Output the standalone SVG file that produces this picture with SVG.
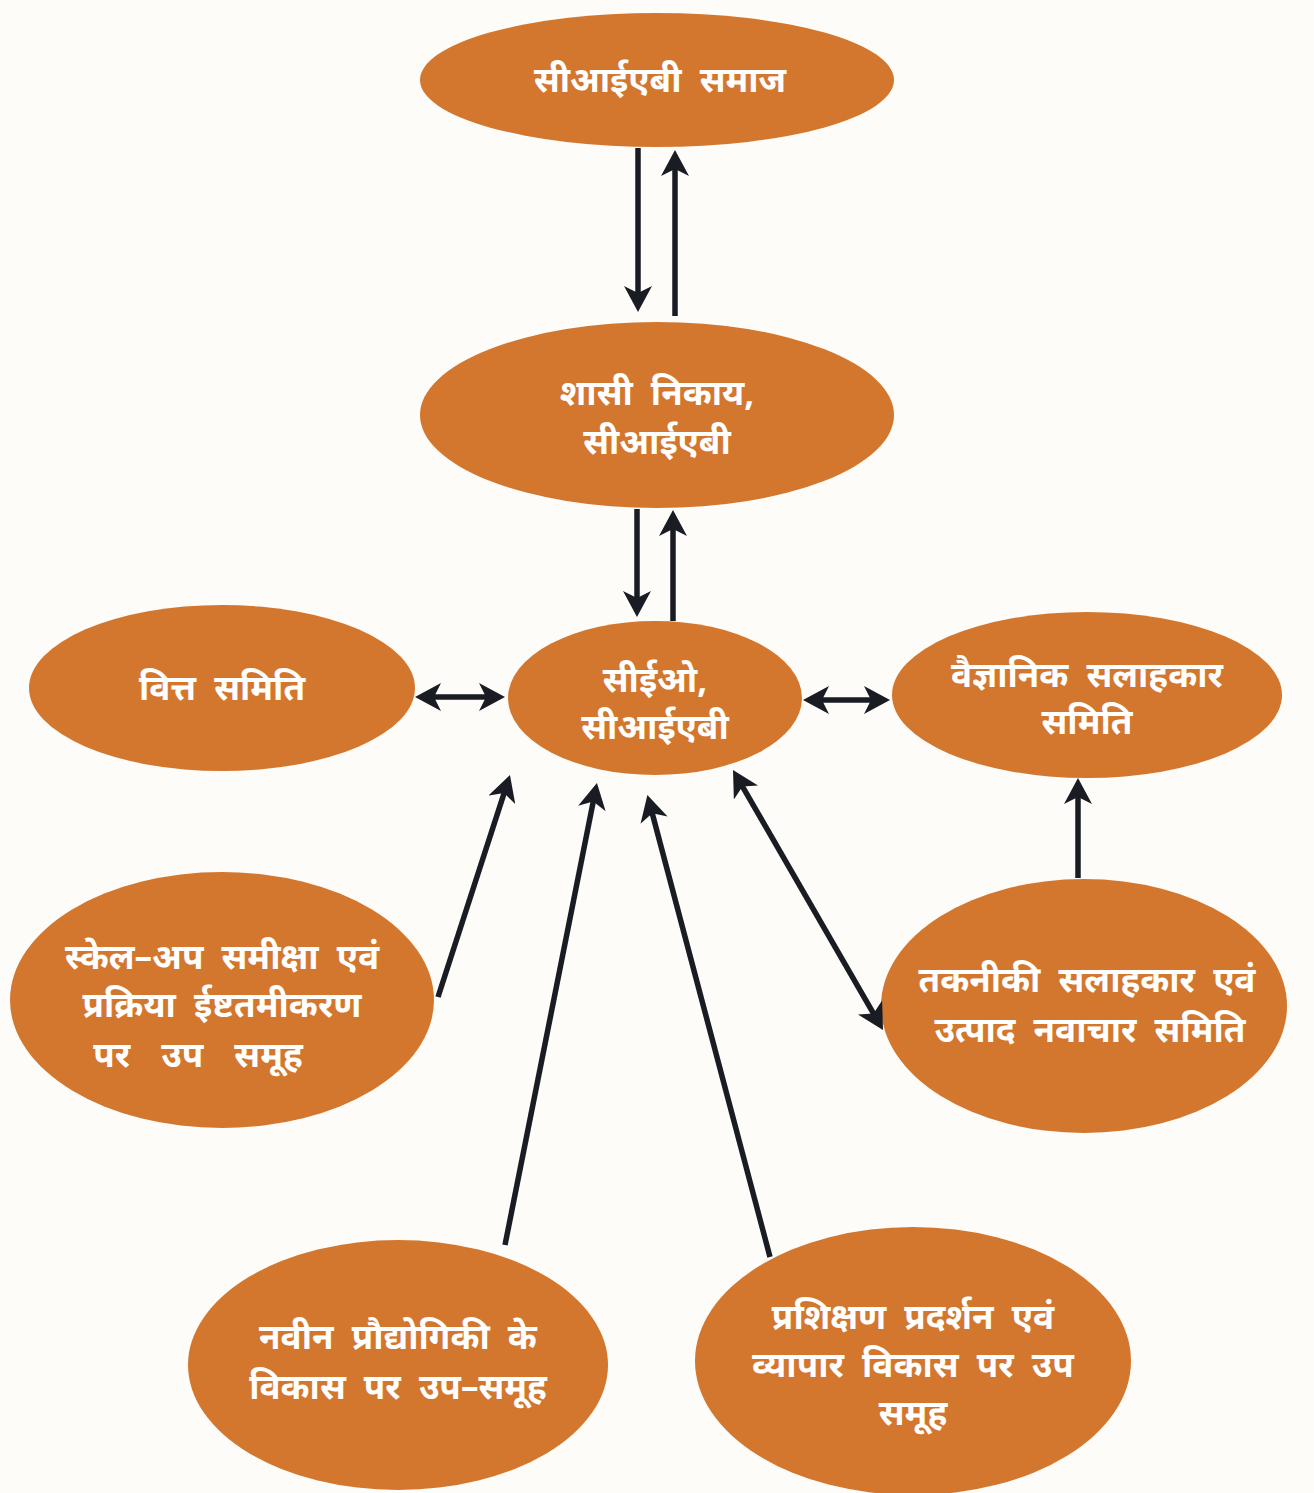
<svg xmlns="http://www.w3.org/2000/svg" width="1314" height="1493" viewBox="0 0 1314 1493">
  <style>
    .node { fill: #D3772F; }
    .label { fill: #FFFFFF; font-family: "Noto Sans", "DejaVu Sans", sans-serif; font-size: 35px; font-weight: bold; text-anchor: middle; word-spacing: 9px; }
    .conn { stroke: #1A1C24; stroke-width: 5.5; fill: none; }
  </style>
  <defs>
    <marker id="ah" viewBox="0 0 26 28" refX="17" refY="14" markerWidth="26" markerHeight="28" markerUnits="userSpaceOnUse" orient="auto-start-reverse">
      <path d="M0,0 L26,14 L0,28 L7,14 Z" fill="#1A1C24"/>
    </marker>
  </defs>
  <rect width="1314" height="1493" fill="#FDFCF8"/>

  <g id="n-society">
    <ellipse class="node" cx="657" cy="80" rx="237" ry="67"/>
    <text class="label" x="660" y="92">सीआईएबी समाज</text>
  </g>
  <g id="n-governing">
    <ellipse class="node" cx="657" cy="415" rx="237" ry="93"/>
    <text class="label" x="657" y="405">शासी निकाय,</text>
    <text class="label" x="657" y="454">सीआईएबी</text>
  </g>
  <g id="n-ceo">
    <ellipse class="node" cx="655" cy="698" rx="147" ry="77"/>
    <text class="label" x="655" y="692">सीईओ,</text>
    <text class="label" x="655" y="739">सीआईएबी</text>
  </g>
  <g id="n-finance">
    <ellipse class="node" cx="222" cy="688" rx="193" ry="83"/>
    <text class="label" x="222" y="700">वित्त समिति</text>
  </g>
  <g id="n-scientific">
    <ellipse class="node" cx="1087" cy="695" rx="195" ry="83"/>
    <text class="label" x="1087" y="687">वैज्ञानिक सलाहकार</text>
    <text class="label" x="1087" y="734">समिति</text>
  </g>
  <g id="n-scaleup">
    <ellipse class="node" cx="222" cy="1000" rx="212" ry="128"/>
    <text class="label" x="222" y="969">स्केल–अप समीक्षा एवं</text>
    <text class="label" x="222" y="1017">प्रक्रिया ईष्टतमीकरण</text>
    <text class="label" x="198" y="1067" style="word-spacing:22px">पर उप समूह</text>
  </g>
  <g id="n-technical">
    <ellipse class="node" cx="1084" cy="1006" rx="203" ry="127"/>
    <text class="label" x="1087" y="992">तकनीकी सलाहकार एवं</text>
    <text class="label" x="1090" y="1042">उत्पाद नवाचार समिति</text>
  </g>
  <g id="n-newtech">
    <ellipse class="node" cx="398" cy="1365" rx="210" ry="125"/>
    <text class="label" x="398" y="1349">नवीन प्रौद्योगिकी के</text>
    <text class="label" x="398" y="1399">विकास पर उप–समूह</text>
  </g>
  <g id="n-training">
    <ellipse class="node" cx="913" cy="1361" rx="218" ry="134"/>
    <text class="label" x="913" y="1329">प्रशिक्षण प्रदर्शन एवं</text>
    <text class="label" x="913" y="1377">व्यापार विकास पर उप</text>
    <text class="label" x="913" y="1425">समूह</text>
  </g>

  <g id="connectors">
    <line class="conn" x1="638" y1="148" x2="638" y2="303" marker-end="url(#ah)"/>
    <line class="conn" x1="675" y1="316" x2="675" y2="159" marker-end="url(#ah)"/>
    <line class="conn" x1="637" y1="509" x2="637" y2="608" marker-end="url(#ah)"/>
    <line class="conn" x1="673" y1="621" x2="673" y2="519" marker-end="url(#ah)"/>
    <line class="conn" x1="424" y1="697" x2="496" y2="697" marker-start="url(#ah)" marker-end="url(#ah)"/>
    <line class="conn" x1="812" y1="700" x2="881" y2="700" marker-start="url(#ah)" marker-end="url(#ah)"/>
    <line class="conn" x1="1078" y1="878" x2="1078" y2="787" marker-end="url(#ah)"/>
    <line class="conn" x1="438" y1="997" x2="507.2" y2="783.6" marker-end="url(#ah)"/>
    <line class="conn" x1="505" y1="1245" x2="595.2" y2="791.8" marker-end="url(#ah)"/>
    <line class="conn" x1="770" y1="1257" x2="649.7" y2="803.7" marker-end="url(#ah)"/>
    <line class="conn" x1="737.5" y1="777.8" x2="878.5" y2="1022.2" marker-start="url(#ah)" marker-end="url(#ah)"/>
  </g>
</svg>
